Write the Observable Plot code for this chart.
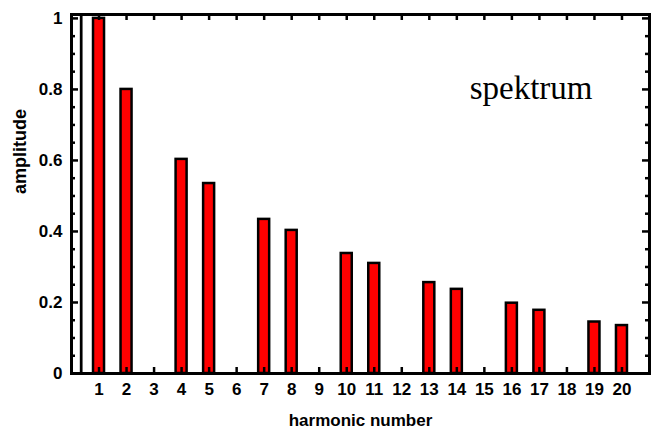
<!DOCTYPE html>
<html>
<head>
<meta charset="utf-8">
<script src="https://cdn.jsdelivr.net/npm/d3@7"></script>
<script src="https://cdn.jsdelivr.net/npm/@observablehq/plot@0.6"></script>
<style>
  html, body { margin: 0; padding: 0; background: #fff; }
</style>
</head>
<body>
<div id="chart"></div>
<script>
const harmonics = [1, 2, 3, 4, 5, 6, 7, 8, 9, 10, 11, 12, 13, 14, 15, 16, 17, 18, 19, 20];
const amplitudes = [1.0, 0.8, 0, 0.603, 0.535, 0, 0.434, 0.403, 0, 0.338, 0.31, 0, 0.256, 0.237, 0, 0.198, 0.178, 0, 0.145, 0.135];
const yMajor = [0, 0.2, 0.4, 0.6, 0.8, 1];
const yLabels = ["0", "0.2", "0.4", "0.6", "0.8", "1"];
const yMinor = d3.range(0, 21).map(i => i * 0.05).filter(v => Math.abs(v / 0.2 - Math.round(v / 0.2)) > 1e-6);
const strayLine = [0.37];
const xTitle = "harmonic number";
const yTitle = "amplitude";
const annotation = "spektrum";

const data = harmonics.map((n, i) => ({n, a: amplitudes[i]})).filter(d => d.a > 0);

const W = 657, H = 435;
const mL = 71, mR = 8, mT = 14, mB = 62;
const pw = W - mL - mR, ph = H - mT - mB;

const chart = Plot.plot({
  width: W,
  height: H,
  marginLeft: mL,
  marginRight: mR,
  marginTop: mT,
  marginBottom: mB,
  style: {fontFamily: "Liberation Sans", background: "#fff", color: "#000", overflow: "visible"},
  x: {domain: [0, 21], axis: null},
  y: {domain: [0, 1.011], axis: null},
  marks: [
    Plot.rectY(data, {x1: d => d.n - 0.2, x2: d => d.n + 0.2, y1: 0, y2: d => d.a, fill: "#ff0000", stroke: "black", strokeWidth: 2.5}),
    // ticks
    Plot.tickX(harmonics, {x: d => d, insetTop: ph - 6, stroke: "black", strokeWidth: 2.5}),
    Plot.tickX(harmonics, {x: d => d, insetBottom: ph - 6, stroke: "black", strokeWidth: 2.5}),
    Plot.tickY(yMajor, {y: d => d, insetRight: pw - 7, stroke: "black", strokeWidth: 2.5}),
    Plot.tickY(yMinor, {y: d => d, insetRight: pw - 4, stroke: "black", strokeWidth: 2.5}),
    Plot.tickY(yMajor, {y: d => d, insetLeft: pw - 7, stroke: "black", strokeWidth: 2.5}),
    Plot.tickY(yMinor, {y: d => d, insetLeft: pw - 4, stroke: "black", strokeWidth: 2.5}),
    Plot.frame({stroke: "black", strokeWidth: 3}),
    // tick labels
    Plot.text(harmonics, {x: d => d, frameAnchor: "bottom", dy: 16, text: d => String(d), fontSize: 17, fontWeight: "bold", fill: "black", lineAnchor: "middle"}),
    Plot.text(yMajor, {y: d => d, frameAnchor: "left", dx: -9, text: (d, i) => yLabels[i], textAnchor: "end", fontSize: 17, fontWeight: "bold", fill: "black"}),
    // titles
    Plot.text([xTitle], {frameAnchor: "bottom", dy: 52, text: d => d, fontSize: 17, fontWeight: "bold", fill: "black"}),
    Plot.text([yTitle], {frameAnchor: "left", dx: -51, rotate: -90, text: d => d, fontSize: 18, fontWeight: "bold", fill: "black"}),
    Plot.text([annotation], {frameAnchor: "top-right", dx: -57, dy: 61, text: d => d, textAnchor: "end", fontSize: 33, fontFamily: "Liberation Serif", fill: "black"}),
    Plot.rect(strayLine, {x1: d => d - 0.05, x2: d => d + 0.05, y1: 0, y2: 1.011, fill: "#000"})
  ]
});

document.getElementById("chart").appendChild(chart);
</script>
</body>
</html>
